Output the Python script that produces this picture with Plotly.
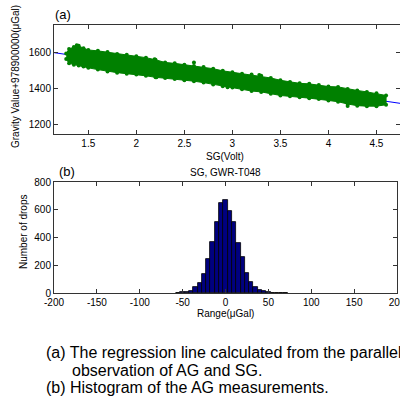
import plotly.graph_objects as go

# ---------- (a) regression data ----------
sg_env = [1.27, 1.30, 1.35, 1.40, 1.45, 1.50, 1.60, 1.70, 1.80, 1.90, 2.00, 2.10, 2.20, 2.30,
          2.40, 2.50, 2.60, 2.70, 2.80, 2.90, 3.00, 3.10, 3.20, 3.30, 3.40, 3.50, 3.60, 3.70,
          3.80, 3.90, 4.00, 4.10, 4.20, 4.30, 4.40, 4.50, 4.60]
grav_upper = [1595, 1620, 1632, 1638, 1625, 1615, 1610, 1603, 1592, 1588, 1580, 1572, 1560, 1545,
              1540, 1532, 1525, 1520, 1510, 1498, 1490, 1482, 1478, 1470, 1458, 1445, 1436, 1428,
              1425, 1418, 1410, 1408, 1396, 1388, 1380, 1372, 1360]
grav_lower = [1565, 1540, 1532, 1528, 1522, 1515, 1505, 1495, 1488, 1482, 1478, 1470, 1462, 1458,
              1452, 1445, 1440, 1432, 1422, 1412, 1405, 1395, 1385, 1380, 1370, 1360, 1355, 1350,
              1345, 1340, 1332, 1325, 1312, 1303, 1300, 1300, 1308]
sg_outliers = [2.19, 2.21, 2.60, 2.95, 3.28, 3.60, 4.20, 1.38]
grav_outliers = [1563, 1462, 1545, 1406, 1475, 1361, 1301, 1642]
line_sg = [1.143, 4.745]
line_grav = [1600, 1316]
sg_ticks = [1.5, 2, 2.5, 3, 3.5, 4, 4.5]
sg_ticklabels = ["1.5", "2", "2.5", "3", "3.5", "4", "4.5"]
grav_ticks = [1200, 1400, 1600]

# ---------- (b) histogram data ----------
bin_centers = [-55, -50, -45, -40, -35, -30, -25, -20, -15, -10, -5, 0, 5, 10, 15, 20, 25, 30,
               35, 40, 45, 50, 55, 60, 65, 70]
counts = [3, 4, 6, 12, 43, 72, 135, 245, 367, 509, 648, 672, 588, 509, 360, 257, 144, 79,
          45, 22, 12, 5, 2, 2, 0, 2]
range_ticks = [-200, -150, -100, -50, 0, 50, 100, 150, 200]
range_ticklabels = ["-200", "-150", "-100", "-50", "0", "50", "100", "150", "200"]
drop_ticks = [0, 200, 400, 600, 800]

FONT = "Liberation Sans, Arial, sans-serif"
GREEN = "#008000"
W, H = 400, 396

fig = go.Figure()

fig.add_trace(go.Scatter(x=line_sg, y=line_grav, mode="lines",
                         line=dict(color="#0000FF", width=1), xaxis="x", yaxis="y",
                         showlegend=False, hoverinfo="skip"))
band_x = sg_env + sg_env[::-1]
band_y = grav_upper + grav_lower[::-1]
fig.add_trace(go.Scatter(x=band_x, y=band_y, mode="lines", fill="toself",
                         fillcolor=GREEN, line=dict(color=GREEN, width=1),
                         xaxis="x", yaxis="y", showlegend=False, hoverinfo="skip"))
fig.add_trace(go.Scatter(x=sg_env + sg_env, y=grav_upper + grav_lower, mode="markers",
                         marker=dict(color=GREEN, size=4, symbol="circle"),
                         xaxis="x", yaxis="y", showlegend=False, hoverinfo="skip"))
fig.add_trace(go.Scatter(x=sg_outliers, y=grav_outliers, mode="markers",
                         marker=dict(color=GREEN, size=4, symbol="circle"),
                         xaxis="x", yaxis="y", showlegend=False, hoverinfo="skip"))

fig.add_trace(go.Bar(x=bin_centers, y=counts, width=5,
                     marker=dict(color="#000080", line=dict(color="black", width=0.8)),
                     xaxis="x2", yaxis="y2", showlegend=False))

axis_common = dict(showline=True, linecolor="#333333", linewidth=1, mirror="ticks",
                   ticks="inside", ticklen=4, tickcolor="#333333", showgrid=False,
                   zeroline=False, automargin=False, ticklabeloverflow="allow",
                   tickfont=dict(family=FONT, size=10, color="black"))

fig.update_layout(
    width=W, height=H,
    margin=dict(l=0, r=0, t=0, b=0, pad=0),
    paper_bgcolor="white", plot_bgcolor="white",
    bargap=0,
    xaxis=dict(domain=[54 / W, 1.0], range=[1.143, 4.745], anchor="y",
               tickvals=sg_ticks, ticktext=sg_ticklabels, **axis_common),
    yaxis=dict(domain=[1 - 134 / H, 1 - 25 / H], range=[1144, 1755], anchor="x",
               tickvals=grav_ticks, **axis_common),
    xaxis2=dict(domain=[54 / W, 397 / W], range=[-200, 200], anchor="y2",
                tickvals=range_ticks, ticktext=range_ticklabels, **axis_common),
    yaxis2=dict(domain=[1 - 293 / H, 1 - 182 / H], range=[0, 800], anchor="x2",
                tickvals=drop_ticks, **axis_common),
    font=dict(family=FONT, color="black"),
)

def txt(x, y, s, size=10, xanchor="center", angle=0):
    fig.add_annotation(x=x / W, y=1 - y / H, xref="paper", yref="paper", text=s,
                       showarrow=False, xanchor=xanchor, yanchor="middle", textangle=angle,
                       font=dict(family=FONT, size=size, color="black"))

txt(53, 15, "(a)", size=13, xanchor="left")
txt(225, 156, "SG(Volt)", size=10)
txt(16, 77, "Gravity Value+978900000(μGal)", size=10, angle=-90)
txt(57, 171, "(b)", size=13, xanchor="left")
txt(226, 172, "SG, GWR-T048", size=10)
txt(23, 232, "Number of drops", size=10, angle=-90)
txt(225, 313, "Range(μGal)", size=10)

txt(44, 352, "(a) The regression line calculated from the parallel", size=16, xanchor="left")
txt(70, 370, "observation of AG and SG.", size=16, xanchor="left")
txt(44, 387, "(b) Histogram of the AG measurements.", size=16, xanchor="left")

fig.write_html("out.html", config={"displayModeBar": False},
               post_script="document.body.style.margin='0';document.body.style.padding='0';"
                           "document.body.style.overflow='hidden';")
